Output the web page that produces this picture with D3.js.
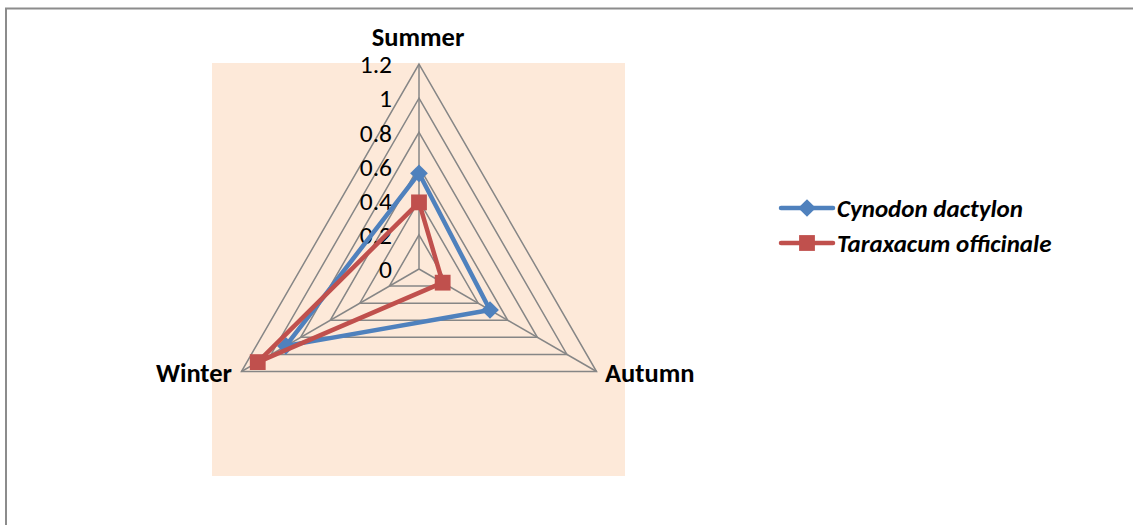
<!DOCTYPE html>
<html><head><meta charset="utf-8">
<script src="https://cdn.jsdelivr.net/npm/d3@7"></script>
<style>body{margin:0;background:#fff}svg{display:block}</style>
</head><body><svg id="c" width="1133" height="525"></svg>
<script>
const categories = ["Summer", "Autumn", "Winter"];
const seriesNames = ["Cynodon dactylon", "Taraxacum officinale"];
const cynodon = [0.56, 0.48, 0.9];
const taraxacum = [0.39, 0.16, 1.09];
const tickValues = [0, 0.2, 0.4, 0.6, 0.8, 1, 1.2];
const tickLabels = ["0", "0.2", "0.4", "0.6", "0.8", "1", "1.2"];
const colors = ["#4F81BD", "#C0504D"];

const svg = d3.select("#c");
const font = "Carlito, Lato, 'Open Sans', sans-serif";
// chart border
svg.append("path").attr("d", "M6,525 V8.5 H1133").attr("fill", "none").attr("stroke", "#8c8c8c").attr("stroke-width", 2);
// plot area
svg.append("rect").attr("x", 212).attr("y", 63).attr("width", 413).attr("height", 413).attr("fill", "#FDE9D9");

const cx = 419, cy = 269;
const r = d3.scaleLinear().domain([0, 1.2]).range([0, 205]);
const ang = d3.scaleBand().domain(categories).range([0, 2 * Math.PI]);
const pt = (c, v) => {
  const a = ang(c);
  return [cx + r(v) * Math.sin(a), cy - r(v) * Math.cos(a)];
};
const g = svg.append("g");
// rings
tickValues.slice(1).forEach(t => {
  g.append("path").attr("d", d3.line()(categories.map(c => pt(c, t))) + "Z")
    .attr("fill", "none").attr("stroke", "#868686").attr("stroke-width", 1.5);
});
// spokes
categories.forEach(c => {
  const p = pt(c, 1.2);
  g.append("line").attr("x1", cx).attr("y1", cy).attr("x2", p[0]).attr("y2", p[1])
    .attr("stroke", "#868686").attr("stroke-width", 1.5);
});
// tick labels
tickValues.forEach((t, i) => {
  g.append("text").attr("x", 392).attr("y", cy - r(t)).attr("dy", "0.36em")
    .attr("text-anchor", "end").attr("font-family", font).attr("font-size", 25.5).attr("fill", "#000")
    .text(tickLabels[i]);
});
// category labels
const labPos = {Summer: [418, 46, "middle"], Autumn: [605, 382, "start"], Winter: [232, 382, "end"]};
categories.forEach(c => {
  const [x, y, a] = labPos[c];
  g.append("text").attr("x", x).attr("y", y).attr("text-anchor", a)
    .attr("font-family", font).attr("font-size", 26.5).attr("font-weight", "bold").text(c);
});
// series
const data = [cynodon, taraxacum];
const diamond = d3.symbol().type(d3.symbolDiamond2).size(200);
const square = d3.symbol().type(d3.symbolSquare).size(250);
data.forEach((vals, si) => {
  const pts = categories.map((c, i) => pt(c, vals[i]));
  g.append("path").attr("d", d3.line()(pts) + "Z").attr("fill", "none")
    .attr("stroke", colors[si]).attr("stroke-width", 4.5).attr("stroke-linejoin", "round");
  pts.forEach(p => {
    g.append("path").attr("d", si === 0 ? diamond() : square())
      .attr("transform", `translate(${p[0]},${p[1]})`).attr("fill", colors[si]);
  });
});
// legend
seriesNames.forEach((n, i) => {
  const y = 208 + i * 35;
  const lg = svg.append("g");
  lg.append("line").attr("x1", 781).attr("x2", 833).attr("y1", y).attr("y2", y)
    .attr("stroke", colors[i]).attr("stroke-width", 4.5).attr("stroke-linecap", "round");
  lg.append("path").attr("d", i === 0 ? diamond() : square())
    .attr("transform", `translate(807,${y})`).attr("fill", colors[i]);
  lg.append("text").attr("x", 837).attr("y", y).attr("dy", "0.35em")
    .attr("font-family", font).attr("font-size", 25).attr("font-weight", "bold").attr("font-style", "italic")
    .text(n);
});
</script></body></html>
